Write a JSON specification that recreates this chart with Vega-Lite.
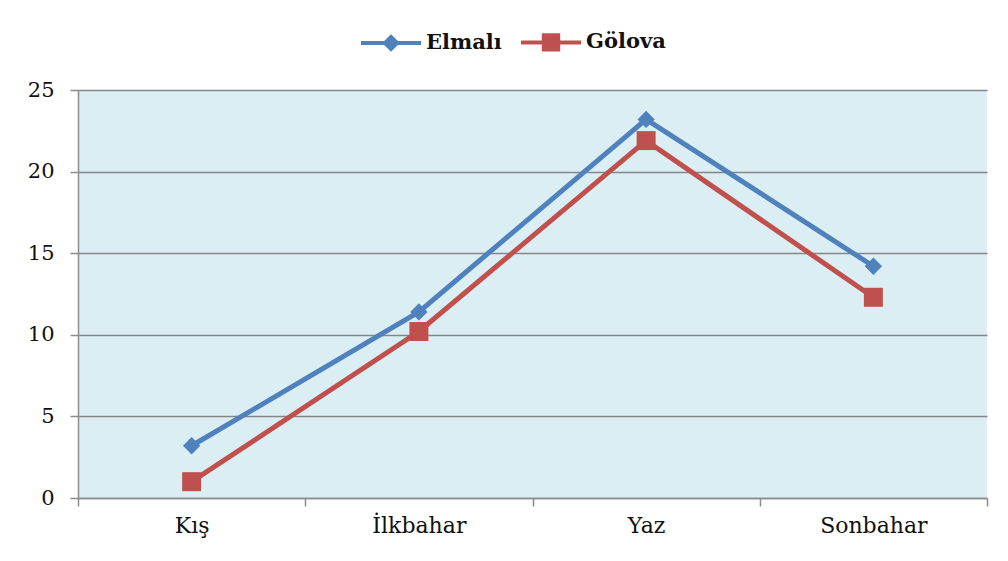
{
  "$schema": "https://vega.github.io/schema/vega-lite/v6.json",
  "width": 909,
  "height": 408,
  "autosize": {"type": "none"},
  "padding": {"left": 78, "top": 90, "right": 21, "bottom": 63},
  "background": "white",
  "config": {
    "view": {"fill": "#DAEEF3", "stroke": null},
    "font": "DejaVu Serif"
  },
  "data": {
    "values": [
      {"season": "Kış", "series": "Elmalı", "value": 3.2},
      {"season": "İlkbahar", "series": "Elmalı", "value": 11.4},
      {"season": "Yaz", "series": "Elmalı", "value": 23.2},
      {"season": "Sonbahar", "series": "Elmalı", "value": 14.2},
      {"season": "Kış", "series": "Gölova", "value": 1.0},
      {"season": "İlkbahar", "series": "Gölova", "value": 10.2},
      {"season": "Yaz", "series": "Gölova", "value": 21.9},
      {"season": "Sonbahar", "series": "Gölova", "value": 12.3}
    ]
  },
  "encoding": {
    "x": {
      "field": "season",
      "type": "nominal",
      "sort": ["Kış", "İlkbahar", "Yaz", "Sonbahar"],
      "scale": {"type": "band", "paddingInner": 0, "paddingOuter": 0},
      "axis": {
        "title": null,
        "labelAngle": 0,
        "tickBand": "extent",
        "tickSize": 8,
        "tickColor": "#8c8c8c",
        "tickWidth": 1.5,
        "domainColor": "#8c8c8c",
        "domainWidth": 1.5,
        "labelFont": "DejaVu Serif",
        "labelFontSize": 22,
        "labelColor": "#111111",
        "labelPadding": 9,
        "grid": false
      }
    },
    "y": {
      "field": "value",
      "type": "quantitative",
      "scale": {"domain": [0, 25], "nice": false},
      "axis": {
        "title": null,
        "values": [0, 5, 10, 15, 20, 25],
        "tickSize": 8,
        "tickColor": "#8c8c8c",
        "tickWidth": 1.5,
        "domainColor": "#8c8c8c",
        "domainWidth": 1.5,
        "grid": true,
        "gridColor": "#868686",
        "gridWidth": 1.5,
        "labelFont": "DejaVu Serif",
        "labelFontSize": 21,
        "labelColor": "#111111",
        "labelPadding": 16
      }
    },
    "color": {
      "field": "series",
      "type": "nominal",
      "scale": {"domain": ["Elmalı", "Gölova"], "range": ["#4F81BD", "#C0504D"]},
      "legend": {
        "title": null,
        "orient": "none",
        "direction": "horizontal",
        "legendX": 281,
        "legendY": -80,
        "columns": 2,
        "columnPadding": 11,
        "symbolSize": 3600,
        "symbolStrokeWidth": 4,
        "symbolOpacity": 1,
        "labelFont": "DejaVu Serif",
        "labelFontSize": 21,
        "labelFontWeight": "bold",
        "labelColor": "#111111",
        "labelOffset": 3,
        "encode": {
          "symbols": {
            "update": {
              "shape": {"signal": "datum.value === 'Elmalı' ? 'M-1,0H1M0,-0.2L0.2,0L0,0.2L-0.2,0Z' : 'M-1,0H1M-0.24,-0.24H0.24V0.24H-0.24Z'"},
              "fill": {"scale": "color", "field": "value"},
              "stroke": {"scale": "color", "field": "value"},
              "strokeWidth": {"value": 4},
              "strokeOpacity": {"value": 1},
              "fillOpacity": {"value": 1},
              "opacity": {"value": 1}
            }
          }
        }
      }
    }
  },
  "layer": [
    {
      "mark": {"type": "line", "strokeWidth": 5}
    },
    {
      "transform": [{"filter": "datum.series === 'Elmalı'"}],
      "mark": {"type": "point", "filled": true, "opacity": 1, "shape": "diamond", "size": 300}
    },
    {
      "transform": [{"filter": "datum.series === 'Gölova'"}],
      "mark": {"type": "point", "filled": true, "opacity": 1, "shape": "square", "size": 360}
    }
  ]
}
